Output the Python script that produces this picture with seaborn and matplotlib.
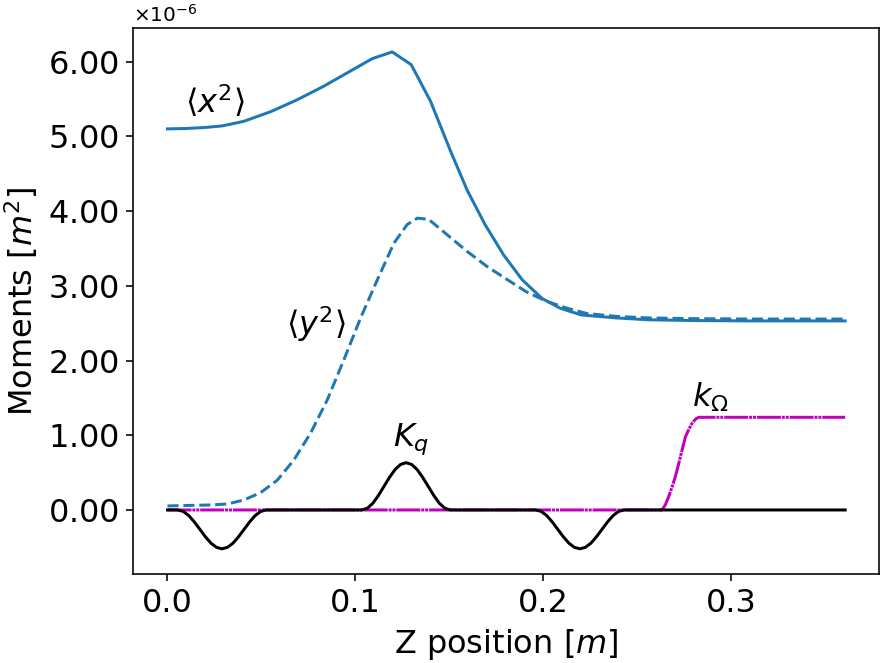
import numpy as np
import pandas as pd
import matplotlib
matplotlib.use("Agg")
import matplotlib.pyplot as plt
from matplotlib.ticker import ScalarFormatter, MultipleLocator
import seaborn as sns

# ---- data (moments in units of 1e-6 m^2) ----
x2_z = [0, 0.0103, 0.0206, 0.0292, 0.0405, 0.0549, 0.0691, 0.0831, 0.0957, 0.109,
        0.1196, 0.1297, 0.140, 0.1507, 0.1595, 0.169, 0.179, 0.1888, 0.1994, 0.209,
        0.2202, 0.239, 0.256, 0.28, 0.31, 0.34, 0.3607]
x2_v = [5.10, 5.105, 5.12, 5.14, 5.20, 5.33, 5.49, 5.67, 5.85, 6.04,
        6.13, 5.96, 5.47, 4.80, 4.28, 3.82, 3.41, 3.08, 2.83, 2.70,
        2.61, 2.57, 2.545, 2.535, 2.53, 2.53, 2.53]

y2_z = [0, 0.023, 0.0319, 0.0407, 0.0496, 0.0585, 0.0673, 0.0762, 0.085, 0.0939,
        0.1028, 0.1117, 0.1205, 0.1276, 0.133, 0.139, 0.149, 0.1595, 0.170, 0.181,
        0.191, 0.202, 0.2127, 0.223, 0.239, 0.256, 0.28, 0.31, 0.34, 0.3607]
y2_v = [0.054, 0.067, 0.08, 0.134, 0.232, 0.40, 0.67, 1.03, 1.47, 2.01,
        2.57, 3.08, 3.57, 3.82, 3.905, 3.89, 3.68, 3.46, 3.26, 3.08,
        2.92, 2.79, 2.70, 2.63, 2.59, 2.57, 2.56, 2.555, 2.555, 2.555]

kq_z = [0, 0.0055, 0.00844, 0.01138, 0.01431, 0.01725, 0.02019, 0.02313, 0.02606, 0.029,
        0.03194, 0.03488, 0.03781, 0.04075, 0.04369, 0.04663, 0.04956, 0.0525,
        0.1035, 0.10644, 0.10938, 0.11231, 0.11525, 0.11819, 0.12113, 0.12406, 0.127,
        0.12994, 0.13288, 0.13581, 0.13875, 0.14169, 0.14463, 0.14756, 0.1505,
        0.196, 0.19894, 0.20188, 0.20481, 0.20775, 0.21069, 0.21363, 0.21656, 0.2195,
        0.22244, 0.22538, 0.22831, 0.23125, 0.23419, 0.23713, 0.24006, 0.243, 0.3607]
kq_v = [0, 0, -0.020, -0.076, -0.161, -0.26, -0.359, -0.444, -0.500, -0.52,
        -0.500, -0.444, -0.359, -0.26, -0.161, -0.076, -0.020, 0,
        0, 0.024, 0.092, 0.196, 0.317, 0.437, 0.541, 0.609, 0.633,
        0.609, 0.541, 0.437, 0.317, 0.196, 0.092, 0.024, 0,
        0, -0.020, -0.076, -0.161, -0.26, -0.359, -0.444, -0.500, -0.52,
        -0.500, -0.444, -0.359, -0.26, -0.161, -0.076, -0.020, 0, 0]

ko_z = [0, 0.2632, 0.2650, 0.2668, 0.2686, 0.2703, 0.2717, 0.2730, 0.2744, 0.2757,
        0.2775, 0.2792, 0.2810, 0.2827, 0.3607]
ko_v = [0, 0, 0.07, 0.18, 0.31, 0.446, 0.58, 0.714, 0.85, 0.98,
        1.08, 1.16, 1.215, 1.24, 1.24]

scale = 1e-6


class TwoDecFormatter(ScalarFormatter):
    def _set_format(self):
        self.format = "%1.2f"
        if self._useMathText:
            self.format = r"$\mathdefault{%s}$" % self.format


fig = plt.figure(figsize=(894 / 144, 663 / 144), dpi=144)
ax = fig.add_axes([133 / 894, 1 - 574 / 663, (879 - 133) / 894, (574 - 28) / 663])

blue = "#1f77b4"
df_x2 = pd.DataFrame({"z": x2_z, "v": np.array(x2_v) * scale})
df_y2 = pd.DataFrame({"z": y2_z, "v": np.array(y2_v) * scale})
df_kq = pd.DataFrame({"z": kq_z, "v": np.array(kq_v) * scale})
df_ko = pd.DataFrame({"z": ko_z, "v": np.array(ko_v) * scale})

sns.lineplot(data=df_x2, x="z", y="v", ax=ax, color=blue, lw=1.5, sort=False)
sns.lineplot(data=df_y2, x="z", y="v", ax=ax, color=blue, lw=1.5, linestyle="--", sort=False)
sns.lineplot(data=df_ko, x="z", y="v", ax=ax, color="#bf00bf", lw=1.5,
             linestyle=(0, (8, 0.3, 1, 0.3, 1, 0.3)), sort=False)
sns.lineplot(data=df_kq, x="z", y="v", ax=ax, color="black", lw=1.5, sort=False)

ax.set_xlim(-0.01835, 0.3787)
ax.set_ylim(-0.857e-6, 6.45e-6)
ax.yaxis.set_major_locator(MultipleLocator(1e-6))
fmt = TwoDecFormatter(useMathText=True)
fmt.set_powerlimits((0, 0))
ax.yaxis.set_major_formatter(fmt)
ax.tick_params(labelsize=16)

ax.set_xlabel(r"Z position [$m$]", fontsize=16)
ax.set_ylabel(r"Moments [$m^2$]", fontsize=16)

ax.text(0.0095, 5.46e-6, r"$\langle x^2\rangle$", fontsize=16, ha="left", va="center")
ax.text(0.063, 2.48e-6, r"$\langle y^2\rangle$", fontsize=16, ha="left", va="center")
ax.text(0.1295, 0.94e-6, r"$K_q$", fontsize=16, ha="center", va="center")
ax.text(0.289, 1.51e-6, r"$k_\Omega$", fontsize=16, ha="center", va="center")

fig.savefig("out.png", dpi=144)
